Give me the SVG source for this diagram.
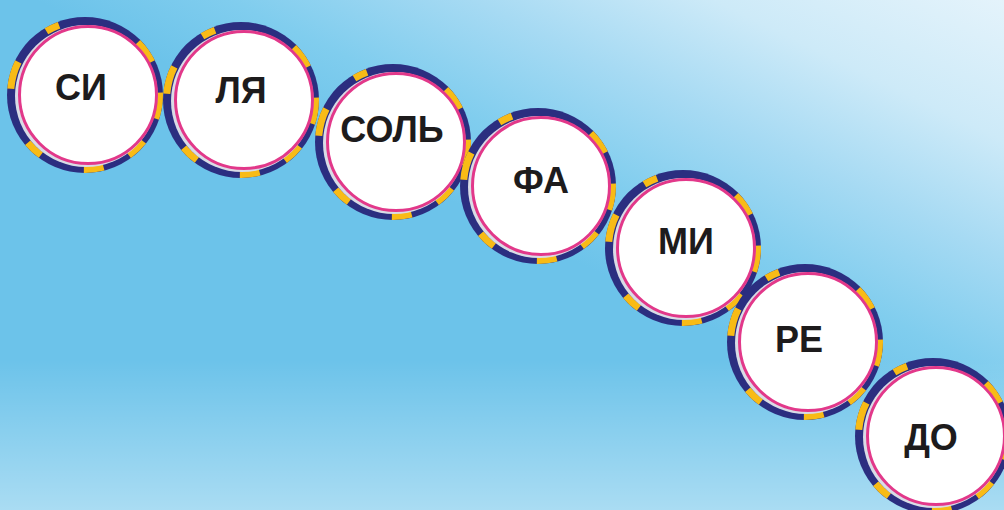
<svg xmlns="http://www.w3.org/2000/svg" xmlns:xlink="http://www.w3.org/1999/xlink" width="1004" height="510" viewBox="0 0 1004 510">
<defs>
<linearGradient id="sky" x1="1004" y1="0" x2="820" y2="380" gradientUnits="userSpaceOnUse">
<stop offset="0" stop-color="#e4f3fb"/>
<stop offset="0.3" stop-color="#cdeaf8"/>
<stop offset="0.55" stop-color="#a6daf3"/>
<stop offset="0.8" stop-color="#80cdee"/>
<stop offset="1" stop-color="#6cc3ea"/>
</linearGradient>
<linearGradient id="haze" x1="0" y1="360" x2="0" y2="510" gradientUnits="userSpaceOnUse">
<stop offset="0" stop-color="#ffffff" stop-opacity="0"/>
<stop offset="1" stop-color="#ffffff" stop-opacity="0.42"/>
</linearGradient>
<g id="ball">
<circle cx="-2" cy="-1" r="78" fill="#2b2e80"/>
<circle cx="-2" cy="-1" r="74.5" fill="none" stroke="#f8bb16" stroke-width="7" stroke-dasharray="24 26 20 28 20 46 18 58 28 42 14 85 24 32"/>
<circle cx="-1" cy="0" r="71" fill="#d9dce6"/>
<circle cx="1" cy="-1" r="69.5" fill="#ffffff"/>
<circle cx="1" cy="-1" r="68.5" fill="none" stroke="#e2388a" stroke-width="3"/>
</g>
<style>
.lbl{font-family:"Liberation Sans",Arial,sans-serif;font-weight:bold;font-size:36px;fill:#1d1b1c;text-anchor:middle}
</style>
</defs>
<rect width="1004" height="510" fill="url(#sky)"/>
<rect width="1004" height="510" fill="url(#haze)"/>
<g id="connectors"/>
<g id="node-si"><use xlink:href="#ball" href="#ball" transform="translate(87,96)"/><text class="lbl" x="81" y="100">СИ</text></g>
<g id="node-lya"><use xlink:href="#ball" href="#ball" transform="translate(243,101)"/><text class="lbl" x="241" y="103">ЛЯ</text></g>
<g id="node-sol"><use xlink:href="#ball" href="#ball" transform="translate(395,143)"/><text class="lbl" x="392" y="142">СОЛЬ</text></g>
<g id="node-fa"><use xlink:href="#ball" href="#ball" transform="translate(540,187)"/><text class="lbl" x="541" y="193">ФА</text></g>
<g id="node-mi"><use xlink:href="#ball" href="#ball" transform="translate(685,249)"/><text class="lbl" x="686" y="254">МИ</text></g>
<g id="node-re"><use xlink:href="#ball" href="#ball" transform="translate(807,343)"/><text class="lbl" x="799" y="352">РЕ</text></g>
<g id="node-do"><use xlink:href="#ball" href="#ball" transform="translate(935,437)"/><text class="lbl" x="931" y="450">ДО</text></g>
</svg>
